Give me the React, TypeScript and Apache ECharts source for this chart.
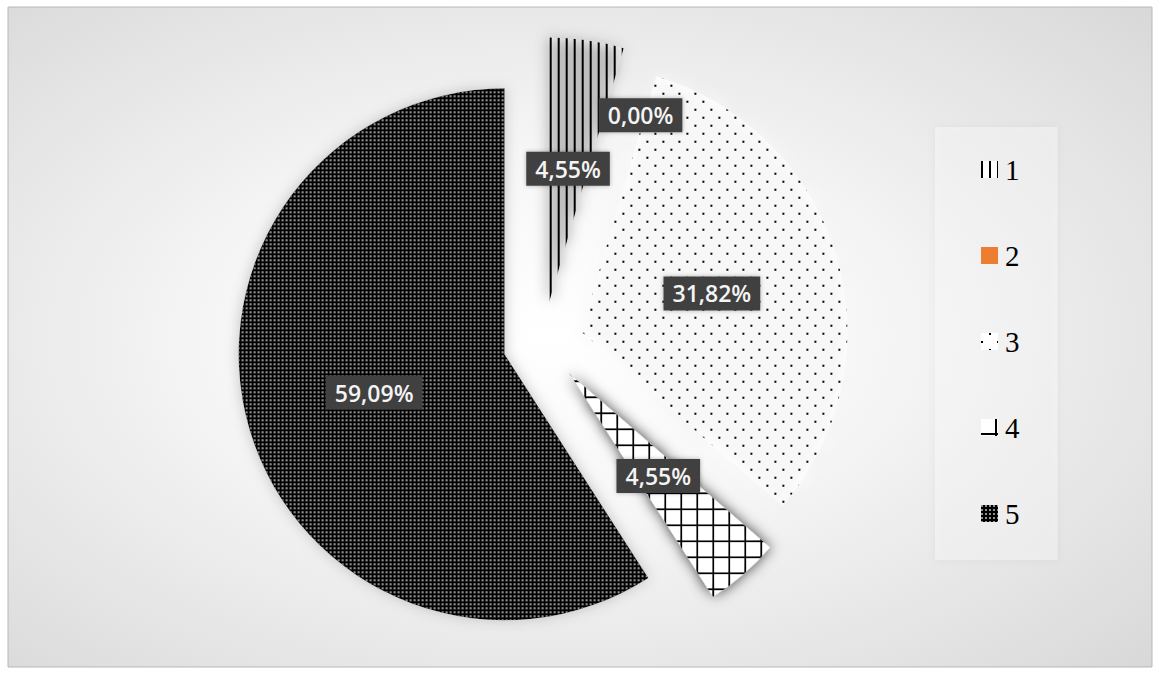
import React, { useEffect, useRef } from "react";
import * as echarts from "echarts";

const categories = ["1", "2", "3", "4", "5"];
const counts = [1, 0, 7, 1, 13];
const sliceColors = ["#ffffff", "#ED7D31", "#ffffff", "#000000", "#000000"];

const decals: any[] = [
  // 1: vertical stripes
  { symbol: "rect", symbolSize: 1, color: "#000000", dashArrayX: [2, 6], dashArrayY: [8, 0] },
  "none",
  // 3: staggered small dots
  { symbol: "rect", symbolSize: 1, color: "#000000", dashArrayX: [[2, 14], [0, 8, 2, 6]], dashArrayY: [2, 6] },
  // 4: grid (white squares over black)
  { symbol: "rect", symbolSize: 1, color: "#ffffff", dashArrayX: [14, 2], dashArrayY: [14, 2] },
  // 5: dense light dots on black
  { symbol: "rect", symbolSize: 1, color: "#8e8e8e", dashArrayX: [2, 2], dashArrayY: [2, 2] },
];

const total = counts.reduce((a, b) => a + b, 0);

export default function App() {
  const ref = useRef<HTMLDivElement>(null);
  useEffect(() => {
    if (!ref.current) return;
    const chart = echarts.init(ref.current, undefined, { renderer: "svg" });
    const data = categories.map((name, i) => ({
      name,
      value: counts[i],
      selected: true,
      itemStyle: {
        color: sliceColors[i],
        decal: decals[i],
      },
    }));
    chart.setOption({
      animation: false,
      backgroundColor: "#ffffff",
      graphic: [
        {
          type: "rect",
          z: -10,
          silent: true,
          shape: { x: 8, y: 7, width: 1144, height: 660 },
          style: {
            fill: new echarts.graphic.RadialGradient(0.47, 0.5, 0.95, [
              { offset: 0, color: "#ffffff" },
              { offset: 0.3, color: "#f6f6f6" },
              { offset: 0.65, color: "#e0e0e0" },
              { offset: 1, color: "#c8c8c8" },
            ]),
            stroke: "#b8b8b8",
            lineWidth: 1,
          },
        },
      ],
      legend: {
        orient: "vertical",
        left: 935,
        top: 127,
        padding: [28, 38, 32, 46],
        itemGap: 57,
        itemWidth: 17,
        itemHeight: 17,
        icon: "rect",
        backgroundColor: "rgba(255,255,255,0.35)",
        shadowBlur: 10,
        shadowColor: "rgba(0,0,0,0.12)",
        textStyle: {
          fontFamily: "Liberation Serif",
          fontSize: 29,
          lineHeight: 29,
          color: "#000000",
          padding: [0, 0, 0, 2],
        },
        data: categories,
      },
      series: [
        {
          type: "pie",
          center: [543, 343],
          radius: 266,
          startAngle: 90,
          clockwise: true,
          selectedMode: "multiple",
          selectedOffset: 40,
          avoidLabelOverlap: false,
          itemStyle: {
            shadowBlur: 14,
            shadowColor: "rgba(255,255,255,0.95)",
          },
          label: {
            show: true,
            position: "inside",
            formatter: (p: any) =>
              ((p.value / total) * 100).toFixed(2).replace(".", ",") + "%",
            fontFamily: "Open Sans",
            fontSize: 23,
            fontWeight: 600,
            color: "#f4f4f4",
            backgroundColor: "#404040",
            padding: [6, 9, 5, 9],
            shadowBlur: 4,
            shadowColor: "rgba(0,0,0,0.3)",
          },
          labelLayout: (params: any) =>
            params.dataIndex === 1 ? { dx: 48, dy: -59 } : {},
          emphasis: { disabled: true },
          data,
        },
      ],
    });
    return () => chart.dispose();
  }, []);
  return (
    <div
      ref={ref}
      style={{ position: "fixed", left: 0, top: 0, width: 1160, height: 675 }}
    />
  );
}
